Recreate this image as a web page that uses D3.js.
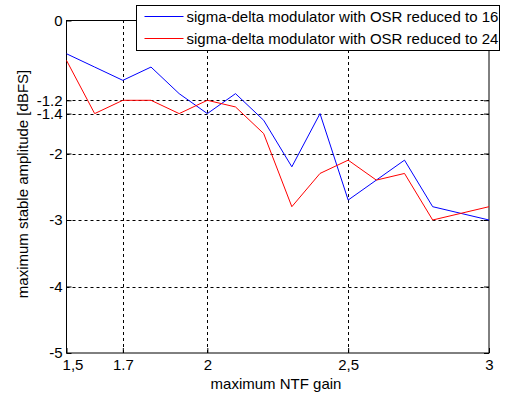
<!DOCTYPE html>
<html>
<head>
<meta charset="utf-8">
<script src="https://cdn.jsdelivr.net/npm/d3@7"></script>
<style>
  body { margin: 0; background: #fff; }
  svg { font-family: "Liberation Sans", Arial, sans-serif; }
</style>
</head>
<body>
<div id="chart"></div>
<script>
// data
var gains = [1.5, 1.6, 1.7, 1.8, 1.9, 2.0, 2.1, 2.2, 2.3, 2.4, 2.5, 2.6, 2.7, 2.8, 3.0];
var osr16 = [-0.5, -0.7, -0.9, -0.7, -1.1, -1.4, -1.1, -1.5, -2.2, -1.4, -2.7, -2.4, -2.1, -2.8, -3.0];
var osr24 = [-0.6, -1.4, -1.2, -1.2, -1.4, -1.2, -1.3, -1.7, -2.8, -2.3, -2.1, -2.4, -2.3, -3.0, -2.8];
var seriesNames = ["sigma-delta modulator with OSR reduced to 16", "sigma-delta modulator with OSR reduced to 24"];
var seriesColors = ["#0000ff", "#ff0000"];
var xTicks = [1.5, 1.7, 2, 2.5, 3];
var xTickLabels = ["1,5", "1.7", "2", "2,5", "3"];
var yTicks = [0, -1.2, -1.4, -2, -3, -4, -5];

var width = 506, height = 397;
var margin = { left: 66.5, right: 17, top: 20.5, bottom: 44 };
var fontSize = 15;

var svg = d3.select("#chart").append("svg")
  .attr("width", width)
  .attr("height", height);

var x = d3.scaleLinear().domain([1.5, 3]).range([margin.left, width - margin.right]);
var y = d3.scaleLinear().domain([-5, 0]).range([height - margin.bottom, margin.top]);

// grid
var grid = svg.append("g").attr("class", "grid");
grid.selectAll("line.gx")
  .data(xTicks.slice(1, -1))
  .enter().append("line")
  .attr("class", "gx")
  .attr("x1", function (d) { return Math.round(x(d)) + 0.5; })
  .attr("x2", function (d) { return Math.round(x(d)) + 0.5; })
  .attr("y1", y(-5)).attr("y2", y(0))
  .attr("stroke", "#000").attr("stroke-dasharray", "3,3");
grid.selectAll("line.gy")
  .data(yTicks.slice(1, -1))
  .enter().append("line")
  .attr("class", "gy")
  .attr("y1", function (d) { return Math.round(y(d)) + 0.5; })
  .attr("y2", function (d) { return Math.round(y(d)) + 0.5; })
  .attr("x1", x(1.5)).attr("x2", x(3))
  .attr("stroke", "#000").attr("stroke-dasharray", "3,3");

// axes
var xAxis = d3.axisBottom(x).tickValues(xTicks).tickSize(-5)
  .tickFormat(function (d, i) { return xTickLabels[i]; });
var gx = svg.append("g")
  .attr("transform", "translate(0," + y(-5) + ")")
  .call(xAxis);
gx.select(".domain").remove();
gx.selectAll("text").attr("font-size", fontSize).attr("fill", "#000").attr("dy", "0.95em");
gx.selectAll("text").filter(function (d, i) { return i === 0; }).attr("dx", 6);

var yAxis = d3.axisLeft(y).tickValues(yTicks).tickSize(-5)
  .tickFormat(function (d) { return d === 0 ? "0" : d3.format("")(d).replace("−", "-"); });
var gy = svg.append("g")
  .attr("transform", "translate(" + x(1.5) + ",0)")
  .call(yAxis);
gy.select(".domain").remove();
gy.selectAll("text").attr("font-size", fontSize).attr("fill", "#000").attr("x", -4);

var gyr = svg.append("g")
  .attr("transform", "translate(" + x(3) + ",0)")
  .call(d3.axisRight(y).tickValues(yTicks).tickSize(-5).tickFormat(""));
gyr.select(".domain").remove();

// box
svg.append("rect")
  .attr("x", x(1.5)).attr("y", y(0))
  .attr("width", x(3) - x(1.5)).attr("height", y(-5) - y(0))
  .attr("fill", "none").attr("stroke", "#000");

// lines
var line = d3.line()
  .x(function (d) { return x(d[0]); })
  .y(function (d) { return y(d[1]); });

[osr16, osr24].forEach(function (vals, k) {
  svg.append("path")
    .datum(gains.map(function (g, i) { return [g, vals[i]]; }))
    .attr("fill", "none")
    .attr("stroke", seriesColors[k])
    .attr("stroke-width", 1)
    .attr("d", line);
});

// legend
var legend = svg.append("g").attr("transform", "translate(136.5,5.5)");
legend.append("rect")
  .attr("width", 363).attr("height", 45)
  .attr("fill", "#fff").attr("stroke", "#000");
seriesNames.forEach(function (name, i) {
  legend.append("line")
    .attr("x1", 8).attr("x2", 47)
    .attr("y1", 11 + i * 22).attr("y2", 11 + i * 22)
    .attr("stroke", seriesColors[i]);
  legend.append("text")
    .attr("x", 50).attr("y", 11 + i * 22)
    .attr("dy", "0.35em")
    .attr("font-size", fontSize)
    .text(name);
});

// axis labels
svg.append("text")
  .attr("x", 276).attr("y", 389)
  .attr("text-anchor", "middle")
  .attr("font-size", fontSize)
  .text("maximum NTF gain");
svg.append("text")
  .attr("transform", "translate(23,184) rotate(-90)")
  .attr("dy", "0.35em")
  .attr("text-anchor", "middle")
  .attr("font-size", fontSize)
  .text("maximum stable amplitude [dBFS]");
</script>
</body>
</html>
